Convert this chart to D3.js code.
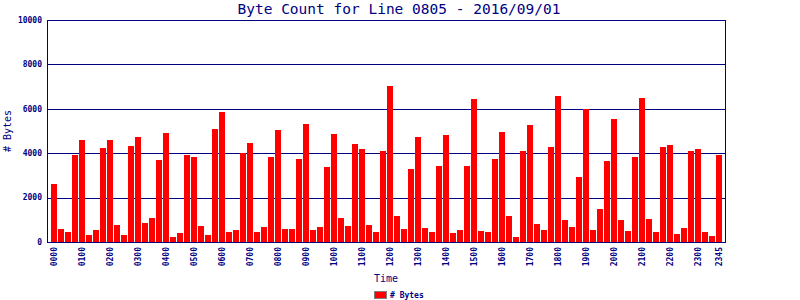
<!DOCTYPE html>
<meta charset="utf-8">
<title>Byte Count for Line 0805</title>
<style>
body { margin: 0; background: #fff; }
text { fill: #000080; font-family: "DejaVu Sans Mono", monospace; }
.tick { font-size: 8px; font-weight: bold; }
.grid { stroke: #000080; stroke-width: 1px; shape-rendering: crispEdges; }
.bar { fill: #ff0000; shape-rendering: crispEdges; }
</style>
<svg width="800" height="300"></svg>
<script src="https://d3js.org/d3.v7.min.js"></script>
<script>

// 15 minute slots for the day
var times = [
  "0000","0015","0030","0045","0100","0115","0130","0145","0200","0215","0230","0245",
  "0300","0315","0330","0345","0400","0415","0430","0445","0500","0515","0530","0545",
  "0600","0615","0630","0645","0700","0715","0730","0745","0800","0815","0830","0845",
  "0900","0915","0930","0945","1000","1015","1030","1045","1100","1115","1130","1145",
  "1200","1215","1230","1245","1300","1315","1330","1345","1400","1415","1430","1445",
  "1500","1515","1530","1545","1600","1615","1630","1645","1700","1715","1730","1745",
  "1800","1815","1830","1845","1900","1915","1930","1945","2000","2015","2030","2045",
  "2100","2115","2130","2145","2200","2215","2230","2245","2300","2315","2330","2345"
];

var bytes = [
  2630, 600, 465, 3930, 4610, 330, 555, 4250, 4610, 780, 330, 4340,
  4745, 870, 1100, 3710, 4925, 240, 420, 3930, 3845, 735, 330, 5105,
  5870, 465, 555, 4025, 4475, 465, 690, 3845, 5060, 600, 600, 3755,
  5330, 555, 690, 3395, 4880, 1100, 735, 4430, 4205, 780, 465, 4115,
  7040, 1185, 600, 3305, 4745, 645, 465, 3440, 4835, 420, 555, 3440,
  6455, 510, 465, 3755, 4970, 1185, 240, 4115, 5285, 825, 555, 4295,
  6590, 1005, 690, 2945, 5975, 555, 1500, 3665, 5555, 1005, 510, 3845,
  6500, 1050, 465, 4295, 4385, 375, 645, 4115, 4205, 465, 285, 3935
];

var tickLabels = ["0000","0100","0200","0300","0400","0500","0600","0700","0800","0900",
  "1000","1100","1200","1300","1400","1500","1600","1700","1800","1900","2000","2100",
  "2200","2300","2345"];

var yTicks = [0, 2000, 4000, 6000, 8000, 10000];

var svg = d3.select("svg"),
    plotL = 47, plotR = 725, plotT = 20, plotB = 242;

var x = d3.scaleBand()
    .domain(times)
    .range([51, 722])
    .paddingInner(1 / 7)
    .paddingOuter(0);

var y = d3.scaleLinear()
    .domain([0, 10000])
    .range([plotB, plotT]);

// title
svg.append("text")
    .attr("x", 399)
    .attr("y", 14)
    .attr("text-anchor", "middle")
    .style("font-size", "14.5px")
    .text("Byte Count for Line 0805 - 2016/09/01");

// grid lines
svg.selectAll("line.grid")
  .data(yTicks.filter(function(d) { return d > 0; }))
  .enter().append("line")
    .attr("class", "grid")
    .attr("x1", plotL)
    .attr("x2", plotR)
    .attr("y1", function(d) { return Math.round(y(d)) + 0.5; })
    .attr("y2", function(d) { return Math.round(y(d)) + 0.5; });

// bars
svg.selectAll("rect.bar")
  .data(bytes)
  .enter().append("rect")
    .attr("class", "bar")
    .attr("x", function(d, i) { return Math.round(x(times[i])); })
    .attr("width", Math.round(x.bandwidth()))
    .attr("y", function(d) { return Math.round(y(d)); })
    .attr("height", function(d) { return plotB - Math.round(y(d)); });

// frame
svg.append("rect")
    .attr("x", plotL + 0.5)
    .attr("y", plotT + 0.5)
    .attr("width", plotR - plotL)
    .attr("height", plotB - plotT)
    .attr("fill", "none")
    .attr("stroke", "#000080")
    .style("shape-rendering", "crispEdges");

// y tick labels
svg.selectAll("text.ylab")
  .data(yTicks)
  .enter().append("text")
    .attr("class", "tick")
    .attr("x", 42)
    .attr("y", function(d) { return y(d); })
    .attr("dy", "0.35em")
    .attr("text-anchor", "end")
    .text(function(d) { return d; });

// x tick labels
svg.selectAll("text.xlab")
  .data(tickLabels)
  .enter().append("text")
    .attr("class", "tick")
    .attr("text-anchor", "end")
    .attr("dy", "0.35em")
    .attr("transform", function(d) {
      return "translate(" + (x(d) + x.bandwidth() / 2) + "," + 247 + ") rotate(-90)";
    })
    .text(function(d) { return d; });

// axis titles
svg.append("text")
    .attr("x", 386)
    .attr("y", 282)
    .attr("text-anchor", "middle")
    .style("font-size", "10px")
    .text("Time");

svg.append("text")
    .attr("transform", "translate(11," + ((plotT + plotB) / 2) + ") rotate(-90)")
    .attr("text-anchor", "middle")
    .style("font-size", "10px")
    .text("# Bytes");

// legend
svg.append("rect")
    .attr("x", 374.5)
    .attr("y", 291.5)
    .attr("width", 12)
    .attr("height", 7)
    .attr("fill", "#ff0000")
    .attr("stroke", "#808080");

svg.append("text")
    .attr("class", "tick")
    .attr("x", 390)
    .attr("y", 298)
    .text("# Bytes");

</script>
